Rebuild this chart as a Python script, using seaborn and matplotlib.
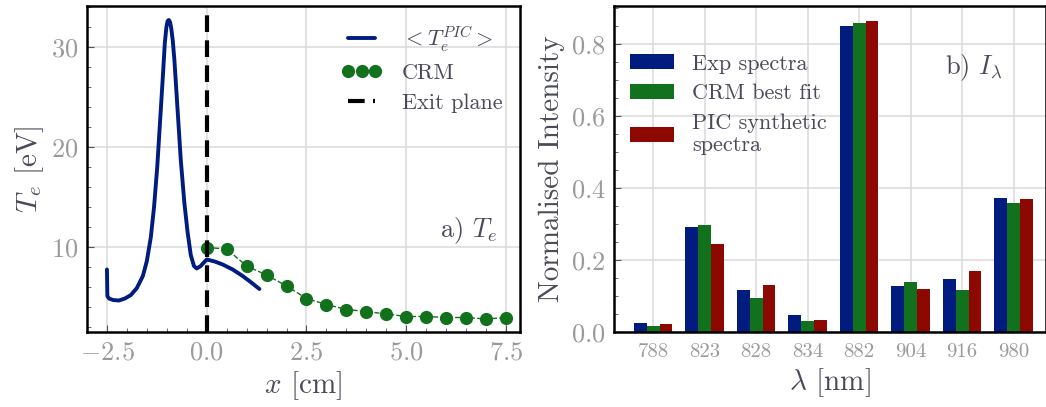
import numpy as np
import pandas as pd
import seaborn as sns
import matplotlib.pyplot as plt
from matplotlib.ticker import MultipleLocator

# left panel: PIC electron temperature profile
pic_x = [-2.50, -2.49, -2.45, -2.35, -2.20, -2.05, -1.90, -1.75, -1.60, -1.50, -1.40,
         -1.32, -1.24, -1.17, -1.10, -1.05, -1.01, -0.98, -0.95, -0.92, -0.89, -0.85,
         -0.81, -0.73, -0.65, -0.56, -0.48, -0.40, -0.32, -0.25, -0.15, -0.06, 0.00,
         0.20, 0.40, 0.65, 0.90, 1.10, 1.32]
pic_te = [7.75, 5.1, 4.85, 4.7, 4.65, 4.85, 5.2, 5.9, 7.1, 8.6, 11.0,
          14.0, 18.0, 22.5, 27.0, 30.4, 32.0, 32.6, 32.7, 32.5, 31.9, 30.6,
          28.7, 23.7, 18.7, 14.4, 11.5, 9.2, 8.1, 7.85, 8.1, 8.5, 8.75,
          8.55, 8.25, 7.75, 7.1, 6.5, 5.8]

crm_x = [0.0, 0.5, 1.0, 1.5, 2.0, 2.5, 3.0, 3.5, 4.0, 4.5, 5.0, 5.5, 6.0, 6.5, 7.0, 7.5]
crm_te = [9.95, 9.8, 8.1, 7.2, 6.1, 4.85, 4.25, 3.75, 3.55, 3.3, 3.05, 3.05, 2.95, 2.95, 2.8, 2.95]

# right panel: line intensities
wavelengths = ['788', '823', '828', '834', '882', '904', '916', '980']
exp_spectra = [0.025, 0.291, 0.116, 0.047, 0.849, 0.129, 0.147, 0.371]
crm_fit = [0.018, 0.296, 0.093, 0.031, 0.858, 0.138, 0.116, 0.359]
pic_synth = [0.021, 0.245, 0.131, 0.034, 0.862, 0.119, 0.168, 0.369]
series_names = ['Exp spectra', 'CRM best fit', 'PIC synthetic\nspectra']

blue, green, red = '#001c7f', '#12711c', '#8c0800'
tick_grey = '#9a9a9a'
label_grey = '#4a4a5a'

sns.set_style("whitegrid")
plt.rcParams.update({
    'font.family': 'serif',
    'font.serif': ['cmr10', 'DejaVu Serif'],
    'mathtext.fontset': 'cm',
    'axes.formatter.use_mathtext': True,
    'axes.unicode_minus': True,
    'grid.color': '#dddddd',
    'grid.linewidth': 1.2,
})

fig = plt.figure(figsize=(10.46, 4.07), dpi=100)
ax1 = fig.add_axes([87/1046, 75/407, 433/1046, 326/407])
ax2 = fig.add_axes([614/1046, 75/407, 432/1046, 326/407])

# ---- panel a
pic_df = pd.DataFrame({'x': pic_x, 'Te': pic_te})
crm_df = pd.DataFrame({'x': crm_x, 'Te': crm_te})
sns.lineplot(data=pic_df, x='x', y='Te', ax=ax1, color=blue, lw=2.8, sort=False,
             label=r'$< T_e^{PIC} >$')
sns.lineplot(data=crm_df, x='x', y='Te', ax=ax1, color=green, lw=1.0, ls='--',
             marker='o', markersize=9.5, markeredgewidth=0, label='CRM')
ax1.axvline(0, color='black', ls=(0, (4, 2)), lw=3, label='Exit plane')

ax1.set_xlim(-3.0, 7.85)
ax1.set_ylim(1.5, 34.1)
ax1.xaxis.set_major_locator(MultipleLocator(2.5))
ax1.xaxis.set_minor_locator(MultipleLocator(0.5))
ax1.yaxis.set_major_locator(MultipleLocator(10))
ax1.yaxis.set_minor_locator(MultipleLocator(2))
ax1.set_xlabel(r'$x$ [cm]', fontsize=21, color=label_grey, labelpad=4)
ax1.set_ylabel(r'$T_e$ [eV]', fontsize=21, color=label_grey, labelpad=4)
ax1.text(0.947, 0.31, r'a) $T_e$', transform=ax1.transAxes, ha='right', va='center',
         fontsize=19, color=label_grey)
ax1.legend(loc='upper right', bbox_to_anchor=(0.99, 0.985), frameon=False, fontsize=16,
           numpoints=3, handlelength=1.8, handletextpad=0.9, labelspacing=0.45,
           labelcolor=label_grey, borderaxespad=0.2)

# ---- panel b
bar_df = pd.DataFrame({
    'wavelength': wavelengths * 3,
    'intensity': exp_spectra + crm_fit + pic_synth,
    'series': np.repeat(series_names, len(wavelengths)),
})
sns.barplot(data=bar_df, x='wavelength', y='intensity', hue='series', ax=ax2,
            palette=[blue, green, red], width=0.75, saturation=1, linewidth=0)
ax2.set_xlim(-0.76, 7.63)
ax2.set_ylim(0, 0.905)
ax2.yaxis.set_major_locator(MultipleLocator(0.2))
ax2.yaxis.set_minor_locator(MultipleLocator(0.05))
ax2.set_xlabel(r'$\lambda$ [nm]', fontsize=21, color=label_grey, labelpad=4)
ax2.set_ylabel('Normalised Intensity', fontsize=21, color=label_grey, labelpad=4)
ax2.text(0.90, 0.81, r'b) $I_\lambda$', transform=ax2.transAxes, ha='right', va='center',
         fontsize=19, color=label_grey)
ax2.legend(loc='upper left', frameon=False, fontsize=16, bbox_to_anchor=(0.0, 0.90),
           handlelength=2.0, handleheight=0.65, handletextpad=0.8, labelspacing=0.45,
           labelcolor=label_grey, borderaxespad=0.3)

for ax in (ax1, ax2):
    ax.grid(True, which='major')
    ax.tick_params(which='both', direction='in', labelcolor=tick_grey, labelsize=19,
                   color='#555555', left=True, bottom=True)
    ax.tick_params(which='major', length=5, pad=6)
    ax.tick_params(which='minor', length=3)
    for s in ax.spines.values():
        s.set_color('black')
        s.set_linewidth(1.8)
ax2.tick_params(axis='x', which='both', bottom=False, labelsize=15, pad=8)

fig.savefig('out.png', dpi=100)
